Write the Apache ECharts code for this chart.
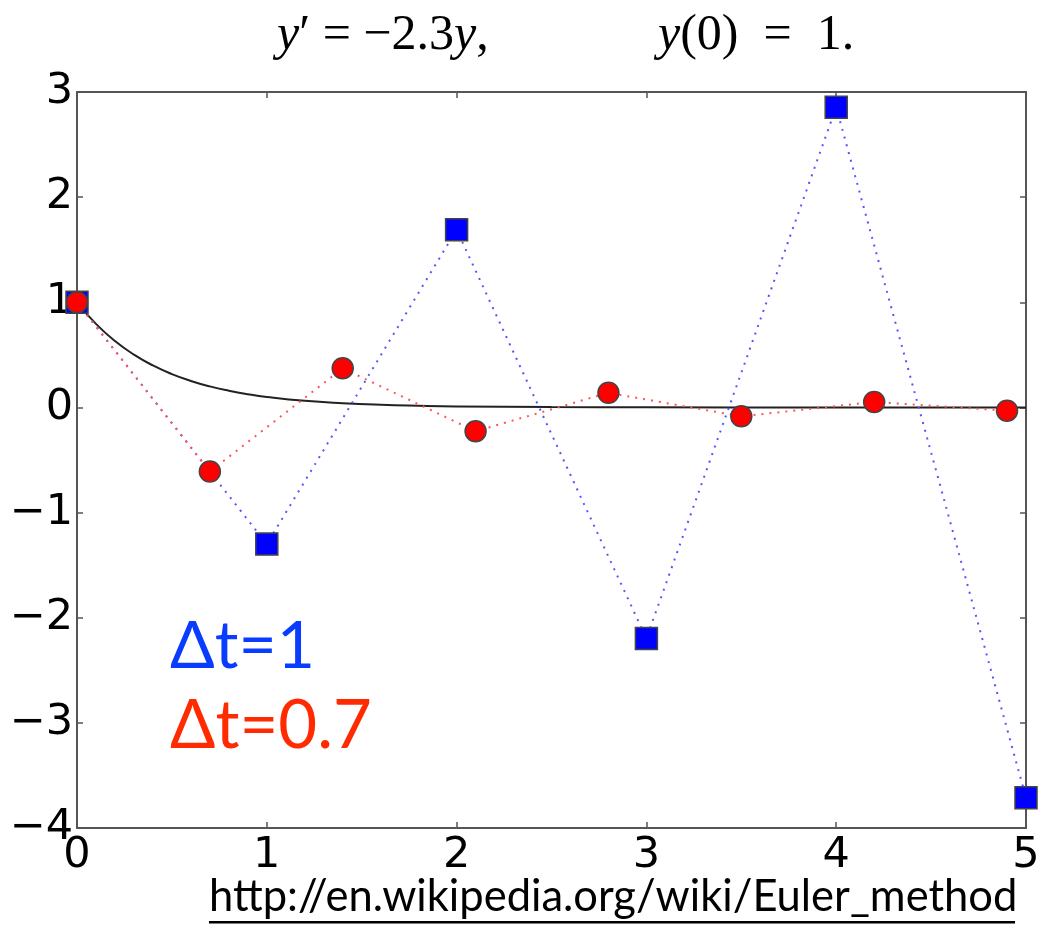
<!DOCTYPE html>
<html><head><meta charset="utf-8">
<script src="https://cdn.jsdelivr.net/npm/echarts@6/dist/echarts.min.js"></script>
<style>html,body{margin:0;padding:0;background:#fff}#c{width:1052px;height:928px}</style>
</head><body><div id="c"></div>
<script>
// Data
const xTicks = [0, 1, 2, 3, 4, 5];
const yTicks = [-4, -3, -2, -1, 0, 1, 2, 3];
const dt1X = [0, 1, 2, 3, 4, 5];
const dt1Y = [1, -1.3, 1.69, -2.197, 2.856, -3.713];
const dt07X = [0, 0.7, 1.4, 2.1, 2.8, 3.5, 4.2, 4.9];
const dt07Y = [1, -0.61, 0.372, -0.227, 0.139, -0.085, 0.052, -0.031];
const exactX = [0, 0.1, 0.2, 0.3, 0.4, 0.5, 0.6, 0.7, 0.8, 0.9, 1.0, 1.2, 1.4, 1.6, 1.8, 2.0, 2.5, 3.0, 4.0, 5.0];
const exactY = [1, 0.795, 0.631, 0.502, 0.399, 0.317, 0.252, 0.200, 0.159, 0.126, 0.100, 0.063, 0.040, 0.025, 0.016, 0.010, 0.003, 0.001, 0.0001, 0];

const zip = (a, b) => a.map((v, i) => [v, b[i]]);
const minus = v => String(v).replace('-', '\u2212');
const tickFont = {fontFamily: 'DejaVu Sans', fontSize: 43, color: '#000'};
const axisLine = {show: true, onZero: false, lineStyle: {color: '#555', width: 2}};
const tick = {show: true, inside: true, length: 6, lineStyle: {color: '#555', width: 1.5}};
const rich = {
  i: {fontFamily: 'Liberation Serif', fontStyle: 'italic', fontWeight: 'normal', fontSize: 50, color: '#000'},
  r: {fontFamily: 'Liberation Serif', fontWeight: 'normal', fontSize: 50, color: '#000'}
};

const chart = echarts.init(document.getElementById('c'));
chart.setOption({
  animation: false,
  title: [
    {text: '{i|y}{r|\u2032 = \u22122.3}{i|y}{r|,}', left: 272, top: 6,
     textStyle: {fontWeight: 'normal', rich: rich}},
    {text: '{i|y}{r|(0)  =  1.}', left: 653, top: 6,
     textStyle: {fontWeight: 'normal', rich: rich}}
  ],
  grid: {left: 77, right: 26, top: 92, bottom: 100, containLabel: false},
  xAxis: [
    {type: 'value', min: 0, max: 5, interval: 1, position: 'bottom',
     axisLine: axisLine, axisTick: tick, splitLine: {show: false},
     axisLabel: Object.assign({margin: 6, formatter: v => xTicks.includes(v) ? String(v) : ''}, tickFont)},
    {type: 'value', min: 0, max: 5, interval: 1, position: 'top',
     axisLine: axisLine, axisTick: tick, splitLine: {show: false}, axisLabel: {show: false}}
  ],
  yAxis: [
    {type: 'value', min: -4, max: 3, interval: 1, position: 'left',
     axisLine: axisLine, axisTick: tick, splitLine: {show: false},
     axisLabel: Object.assign({margin: 4, formatter: v => yTicks.includes(v) ? minus(v) : ''}, tickFont)},
    {type: 'value', min: -4, max: 3, interval: 1, position: 'right',
     axisLine: axisLine, axisTick: tick, splitLine: {show: false}, axisLabel: {show: false}}
  ],
  series: [
    {type: 'line', data: zip(exactX, exactY), smooth: true, showSymbol: false, z: 2,
     lineStyle: {color: '#222', width: 2}},
    {type: 'line', data: zip(dt1X, dt1Y), symbol: 'rect', symbolSize: 22, z: 3,
     lineStyle: {color: '#5555ff', width: 2, type: [2, 6]},
     itemStyle: {color: '#0000ff', borderColor: '#444', borderWidth: 1.5}},
    {type: 'line', data: zip(dt07X, dt07Y), symbol: 'circle', symbolSize: 21, z: 4,
     lineStyle: {color: '#ff5555', width: 2, type: [2, 6]},
     itemStyle: {color: '#ff0000', borderColor: '#444', borderWidth: 1.5}}
  ],
  graphic: [
    {type: 'text', left: 170, top: 614, style: {text: '\u0394t=1', fill: '#0a3cff', font: '66px Lato'}},
    {type: 'text', left: 170, top: 693, style: {text: '\u0394t=0.7', fill: '#ff2a00', font: '67px Lato'}},
    {type: 'text', left: 209, top: 875, style: {text: 'http://en.wikipedia.org/wiki/Euler_method', fill: '#000', font: '43.5px Lato'}},
    {type: 'rect', shape: {x: 209, y: 921, width: 806, height: 2.5}, style: {fill: '#000'}}
  ]
});
</script></body></html>
